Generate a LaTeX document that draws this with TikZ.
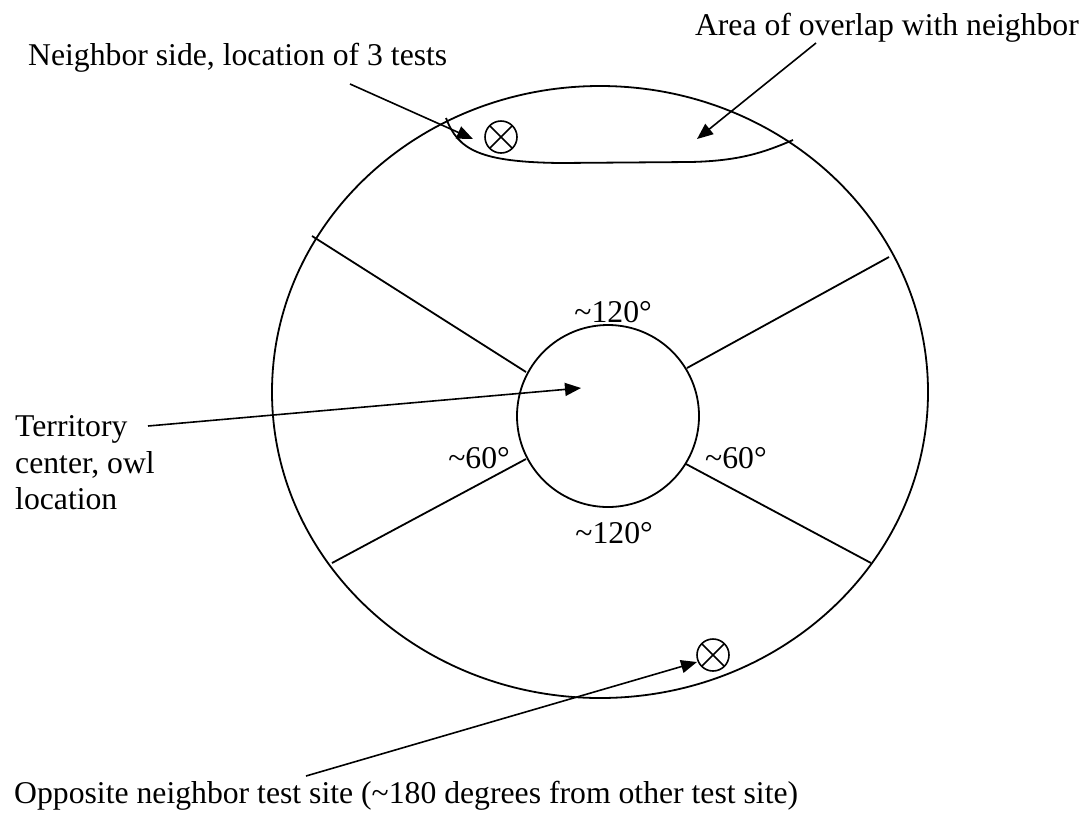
\documentclass[tikz,border=0pt]{standalone}
\usepackage{fontspec}
\setmainfont{Liberation Serif}
\usetikzlibrary{arrows.meta}
\begin{document}
\begin{tikzpicture}[x=1pt,y=-1pt,
  outline/.style={line width=1.8pt},
  lbl/.style={font=\fontsize{31.7}{36}\selectfont, inner sep=0pt},
  ptr/.style={line width=1.6pt, -{Triangle[length=16pt,width=13pt]}},
  xmark/.style={circle, draw, line width=1.6pt, minimum size=32pt, inner sep=0pt,
    path picture={\draw[line width=1.6pt]
      (path picture bounding box.south west) -- (path picture bounding box.north east)
      (path picture bounding box.north west) -- (path picture bounding box.south east);}}]
\useasboundingbox (0,0) rectangle (1083,815);

% territory boundary and core
\draw[outline] (600,392) ellipse [x radius=328, y radius=306];
\draw[outline] (608,416) circle [radius=91];

% sector dividers
\draw[outline] (312,236) -- (526,372);
\draw[outline] (687,368) -- (889,257);
\draw[outline] (332,563) -- (526,459);
\draw[outline] (686,464) -- (871,563);

% overlap zone with the neighbour
\draw[outline] (446,118) .. controls (458,150) and (480,162) .. (560,163)
  -- (690,162) .. controls (740,161) and (765,152) .. (793,140);

% test sites
\node[xmark] (siteA) at (501,137) {};
\node[xmark] (siteB) at (713,655) {};

% angle labels
\node[lbl, anchor=base east] (aTop) at (652,322) {\char`\~120°};
\node[lbl, anchor=base east] (aBot) at (653,543) {\char`\~120°};
\node[lbl, anchor=base east] (aLeft) at (510,468) {\char`\~60°};
\node[lbl, anchor=base west] (aRight) at (705,468) {\char`\~60°};

% captions
\node[lbl, anchor=base west] (nbr) at (28,65) {Neighbor side, location of 3 tests};
\node[lbl, anchor=base east] (ovl) at (1079,35) {Area of overlap with neighbor};
\node[lbl, anchor=base west] (ctr1) at (15,436) {Territory};
\node[lbl, anchor=base west] (ctr2) at (15,473) {center, owl};
\node[lbl, anchor=base west] (ctr3) at (15,509) {location};
\node[lbl, anchor=base west] (opp) at (14,803) {Opposite neighbor test site (\char`\~180 degrees from other test site)};

% pointer ends
\coordinate (nbrTail) at (350,84);
\coordinate (nbrTip) at (473,139);
\coordinate (ovlTail) at (816,43);
\coordinate (ovlTip) at (697,139);
\coordinate (ctrTail) at (148,426);
\coordinate (ctrTip) at (581,388);
\coordinate (oppTail) at (306,776);
\coordinate (oppTip) at (697,662);

\draw[ptr] (nbrTail) -- (nbrTip);
\draw[ptr] (ovlTail) -- (ovlTip);
\draw[ptr] (ctrTail) -- (ctrTip);
\draw[ptr] (oppTail) -- (oppTip);
\end{tikzpicture}
\end{document}
